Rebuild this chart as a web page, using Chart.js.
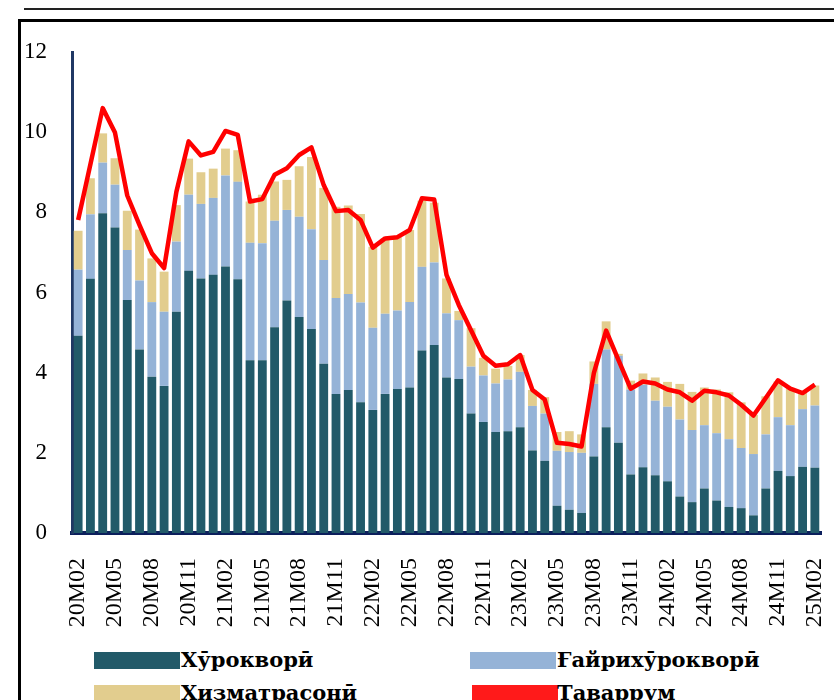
<!DOCTYPE html>
<html>
<head>
<meta charset="utf-8">
<script src="https://cdn.jsdelivr.net/npm/chart.js@4.4.1/dist/chart.umd.min.js"></script>
<style>
  html, body { margin: 0; padding: 0; background: #fff; overflow: hidden; }
  body { width: 834px; height: 700px; position: relative; }
  #topLine { position: absolute; left: 24px; top: 8px; width: 820px; height: 2px; background: #222; }
  #frame { position: absolute; left: 18px; top: 19px; width: 900px; height: 800px; border-left: 3px solid #000; border-top: 3px solid #000; }
  #chart { position: absolute; left: 0; top: 0; }
  .box { position: absolute; height: 17px; width: 86px; }
  .txt { position: absolute; font-family: "DejaVu Serif", serif; font-weight: bold; font-size: 21px; line-height: 21px; color: #000; white-space: nowrap; }
</style>
</head>
<body>
<div id="topLine"></div>
<div id="frame"></div>
<canvas id="chart" width="834" height="640"></canvas>

<div class="box" style="left:94px; top:652px; background:#225a69;"></div>
<div class="txt" style="left:181px; top:649px;">Хӯрокворӣ</div>
<div class="box" style="left:470px; top:652px; background:#95b3d7;"></div>
<div class="txt" style="left:557px; top:649px;">Ғайрихӯрокворӣ</div>
<div class="box" style="left:94px; top:685px; background:#e2cd8e;"></div>
<div class="txt" style="left:181px; top:682px;">Хизматрасонӣ</div>
<div class="box" style="left:472px; top:685px; background:#ff1a1a;"></div>
<div class="txt" style="left:557px; top:682px;">Таваррум</div>

<script>
// ----------------------------------------------------------
// Маълумот: моҳҳо ва саҳми гурӯҳҳо дар таваррум (%)
// ----------------------------------------------------------
const months = [
  "20M02", "20M03", "20M04", "20M05", "20M06", "20M07", "20M08", "20M09", "20M10", "20M11", "20M12",
  "21M01", "21M02", "21M03", "21M04", "21M05", "21M06", "21M07", "21M08", "21M09", "21M10", "21M11", "21M12",
  "22M01", "22M02", "22M03", "22M04", "22M05", "22M06", "22M07", "22M08", "22M09", "22M10", "22M11", "22M12",
  "23M01", "23M02", "23M03", "23M04", "23M05", "23M06", "23M07", "23M08", "23M09", "23M10", "23M11", "23M12",
  "24M01", "24M02", "24M03", "24M04", "24M05", "24M06", "24M07", "24M08", "24M09", "24M10", "24M11", "24M12",
  "25M01", "25M02"
];

const food = [
  4.92, 6.34, 7.98, 7.62, 5.81, 4.58, 3.90, 3.67, 5.52, 6.54, 6.35,
  6.44, 6.65, 6.33, 4.31, 4.31, 5.13, 5.80, 5.39, 5.09, 4.22, 3.47, 3.57,
  3.26, 3.07, 3.47, 3.59, 3.63, 4.55, 4.69, 3.88, 3.84, 2.98, 2.77, 2.52,
  2.54, 2.64, 2.06, 1.80, 0.68, 0.58, 0.50, 1.91, 2.64, 2.25, 1.46, 1.64,
  1.44, 1.29, 0.91, 0.77, 1.11, 0.81, 0.65, 0.62, 0.44, 1.11, 1.55, 1.42,
  1.65, 1.63
];

const nonFood = [
  1.65, 1.61, 1.26, 1.07, 1.25, 1.72, 1.86, 1.85, 1.75, 1.90, 1.86,
  1.92, 2.27, 2.43, 2.93, 2.92, 2.66, 2.26, 2.50, 2.49, 2.59, 2.39, 2.39,
  2.49, 2.05, 2.00, 1.96, 2.13, 2.09, 2.06, 1.60, 1.47, 1.17, 1.16, 1.21,
  1.29, 1.38, 1.11, 1.18, 1.37, 1.44, 1.50, 1.81, 1.94, 2.17, 2.12, 2.06,
  1.86, 1.86, 1.92, 1.80, 1.58, 1.68, 1.69, 1.50, 1.53, 1.35, 1.34, 1.27,
  1.44, 1.55
];

const services = [
  0.97, 0.90, 0.73, 0.66, 0.98, 1.27, 1.09, 1.00, 0.91, 0.90, 0.79,
  0.73, 0.67, 0.79, 1.03, 1.21, 0.98, 0.75, 1.26, 1.80, 1.80, 2.28, 2.21,
  2.21, 2.02, 1.88, 1.83, 1.80, 1.65, 1.49, 0.87, 0.23, 0.96, 0.44, 0.37,
  0.34, 0.42, 0.40, 0.41, 0.47, 0.52, 0.46, 0.56, 0.70, 0.05, 0.22, 0.28,
  0.58, 0.62, 0.89, 0.95, 0.94, 1.09, 1.17, 1.14, 0.98, 0.95, 0.89, 0.93,
  0.44, 0.50
];

const inflation = [
  7.81, 9.20, 10.60, 9.99, 8.42, 7.68, 6.98, 6.61, 8.51, 9.77, 9.42,
  9.51, 10.03, 9.93, 8.27, 8.33, 8.94, 9.10, 9.43, 9.62, 8.68, 8.03, 8.06,
  7.81, 7.12, 7.35, 7.38, 7.56, 8.35, 8.32, 6.44, 5.69, 5.06, 4.42, 4.17,
  4.21, 4.44, 3.57, 3.33, 2.25, 2.22, 2.16, 3.99, 5.05, 4.32, 3.60, 3.78,
  3.73, 3.58, 3.51, 3.30, 3.55, 3.51, 3.43, 3.20, 2.93, 3.37, 3.81, 3.60,
  3.49, 3.70
];

const yTicks = [0, 2, 4, 6, 8, 10, 12];

// ----------------------------------------------------------
// Сохтани диаграмма
// ----------------------------------------------------------
const ctx = document.getElementById("chart").getContext("2d");

new Chart(ctx, {
  type: "bar",
  data: {
    labels: months,
    datasets: [
      {
        type: "line",
        label: "Таваррум",
        data: inflation,
        borderColor: "#ff0000",
        borderWidth: 4.5,
        pointRadius: 0,
        tension: 0,
        fill: false,
        stack: "line",
        borderJoinStyle: "round",
        order: 0
      },
      { label: "Хӯрокворӣ", data: food, backgroundColor: "#225a69", stack: "s", order: 1 },
      { label: "Ғайрихӯрокворӣ", data: nonFood, backgroundColor: "#95b3d7", stack: "s", order: 1 },
      { label: "Хизматрасонӣ", data: services, backgroundColor: "#e2cd8e", stack: "s", order: 1 }
    ]
  },
  options: {
    responsive: false,
    animation: false,
    layout: { padding: { left: 0, right: 13, top: 52, bottom: 0 } },
    plugins: {
      legend: { display: false },
      tooltip: { enabled: false }
    },
    datasets: {
      bar: { barPercentage: 0.72, categoryPercentage: 1 }
    },
    scales: {
      x: {
        stacked: true,
        grid: { display: false, drawTicks: false },
        border: { display: true, color: "#0c1f5c", width: 4 },
        ticks: {
          autoSkip: false,
          minRotation: 90,
          maxRotation: 90,
          padding: 25,
          color: "#000",
          font: { family: "Liberation Serif", size: 24 },
          callback: (v, i) => (i % 3 === 0 ? months[i] : "")
        },
        afterFit: (scale) => {
          scale.height = 640 - 533;
          // нишонаҳои гардонидашуда набояд майдони диаграммаро танг кунанд
          scale.paddingLeft = 0;
          scale.paddingRight = 0;
        }
      },
      y: {
        stacked: true,
        min: 0,
        max: 12,
        afterBuildTicks: (scale) => { scale.ticks = yTicks.map(v => ({ value: v })); },
        grid: { display: false, drawTicks: false },
        border: { display: true, color: "#203864", width: 3 },
        ticks: {
          padding: 25,
          color: "#000",
          font: { family: "Liberation Serif", size: 23 }
        },
        afterFit: (scale) => { scale.width = 72; }
      }
    }
  }
});
</script>
</body>
</html>
